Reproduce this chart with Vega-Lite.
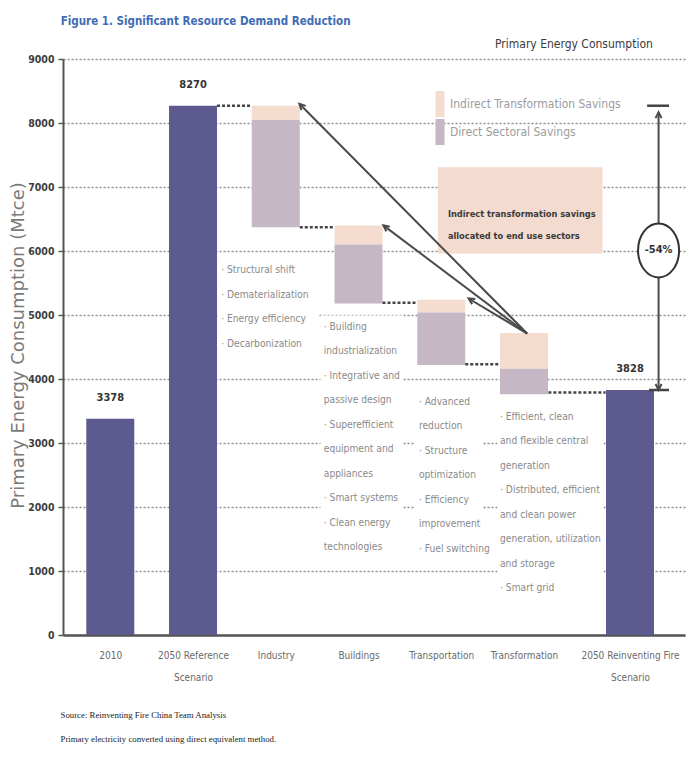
{
  "$schema": "https://vega.github.io/schema/vega-lite/v6.json",
  "width": 622,
  "height": 576,
  "autosize": {"type": "none"},
  "padding": {"left": 63, "top": 59, "right": 4, "bottom": 127},
  "background": "white",
  "config": {
    "view": {"stroke": null},
    "font": "DejaVu Sans Condensed, DejaVu Sans, sans-serif"
  },
  "datasets": {
    "totals": [
      {"i": 0, "name": "2010", "value": 3378, "label": "3378"},
      {"i": 1, "name": "2050 Reference Scenario", "value": 8270, "label": "8270"},
      {"i": 6, "name": "2050 Reinventing Fire Scenario", "value": 3828, "label": "3828"}
    ],
    "savings": [
      {"i": 2, "sector": "Industry", "type": "Indirect Transformation Savings", "lo": 8045, "hi": 8270},
      {"i": 2, "sector": "Industry", "type": "Direct Sectoral Savings", "lo": 6370, "hi": 8045},
      {"i": 3, "sector": "Buildings", "type": "Indirect Transformation Savings", "lo": 6100, "hi": 6400},
      {"i": 3, "sector": "Buildings", "type": "Direct Sectoral Savings", "lo": 5180, "hi": 6100},
      {"i": 4, "sector": "Transportation", "type": "Indirect Transformation Savings", "lo": 5040, "hi": 5240},
      {"i": 4, "sector": "Transportation", "type": "Direct Sectoral Savings", "lo": 4220, "hi": 5040},
      {"i": 5, "sector": "Transformation", "type": "Indirect Transformation Savings", "lo": 4160, "hi": 4720},
      {"i": 5, "sector": "Transformation", "type": "Direct Sectoral Savings", "lo": 3760, "hi": 4160}
    ],
    "connectors": [
      {"x0": 1.29, "x1": 1.71, "y": 8270},
      {"x0": 2.29, "x1": 2.71, "y": 6370},
      {"x0": 3.29, "x1": 3.71, "y": 5190},
      {"x0": 4.29, "x1": 4.71, "y": 4230},
      {"x0": 5.23, "x1": 5.77, "y": 3790}
    ],
    "arrows": [
      {"name": "industry", "x0": 5.03, "y0": 4710, "x1": 2.285, "y1": 8300},
      {"name": "buildings", "x0": 5.03, "y0": 4710, "x1": 3.3, "y1": 6400},
      {"name": "transport", "x0": 5.03, "y0": 4710, "x1": 4.33, "y1": 5258},
      {"name": "up", "x0": 6.3, "y0": 6009, "x1": 6.3, "y1": 8170},
      {"name": "down", "x0": 6.3, "y0": 6009, "x1": 6.3, "y1": 3828}
    ],
    "marks": [
      {"x0": 6.18, "x1": 6.41, "y": 8270},
      {"x0": 6.2, "x1": 6.41, "y": 3828}
    ],
    "notes": [
      {"sector": "Industry", "x": 1.34, "y": 5775, "bx0": 1.3, "bx1": 2.51, "by0": 4366, "by1": 5853, "text": "· Structural shift\n· Dematerialization\n· Energy efficiency\n· Decarbonization"},
      {"sector": "Buildings", "x": 2.58, "y": 4898, "bx0": 2.54, "bx1": 3.54, "by0": 1080, "by1": 4992, "text": "· Building\nindustrialization\n· Integrative and\npassive design\n· Superefficient\nequipment and\nappliances\n· Smart systems\n· Clean energy\ntechnologies"},
      {"sector": "Transportation", "x": 3.73, "y": 3725, "bx0": 3.68, "bx1": 4.5, "by0": 1127, "by1": 3787, "text": "· Advanced\nreduction\n· Structure\noptimization\n· Efficiency\nimprovement\n· Fuel switching"},
      {"sector": "Transformation", "x": 4.71, "y": 3490, "bx0": 4.68, "bx1": 5.75, "by0": 454, "by1": 3584, "text": "· Efficient, clean\nand flexible central\ngeneration\n· Distributed, efficient\nand clean power\ngeneration, utilization\nand storage\n· Smart grid"}
    ],
    "callout": [
      {"x0": 3.96, "x1": 5.74, "y0": 5962, "y1": 7308, "tx": 4.08, "ty": 6573, "text": "Indirect transformation savings\nallocated to end use sectors"}
    ],
    "reduction": [
      {"x": 6.3, "y": 6009, "text": "-54%"}
    ],
    "header": [
      {"x": 6.24, "y": 9233, "text": "Primary Energy Consumption"}
    ],
    "heading": [
      {"x": -0.6, "y": 9578, "text": "Figure 1. Significant Resource Demand Reduction"}
    ]
  },
  "layer": [
    {
      "data": {"name": "totals"},
      "mark": {"type": "bar", "width": 48, "color": "#5c5a8f", "orient": "vertical"},
      "encoding": {
        "x": {
          "field": "i", "type": "quantitative",
          "scale": {"domain": [-0.514, 5, 6, 6.52], "range": [0, 461, 567, 622], "zero": false, "nice": false},
          "axis": {
            "values": [0, 1, 2, 3, 4, 5, 6],
            "labelExpr": "datum.value == 0 ? '2010' : datum.value == 1 ? ['2050 Reference', 'Scenario'] : datum.value == 2 ? 'Industry' : datum.value == 3 ? 'Buildings' : datum.value == 4 ? 'Transportation' : datum.value == 5 ? 'Transformation' : ['2050 Reinventing Fire', 'Scenario']",
            "grid": false,
            "ticks": false,
            "domainColor": "#555555",
            "domainWidth": 2.5,
            "labelColor": "#6a6a6a",
            "labelFontSize": 10,
            "labelPadding": 15,
            "labelBaseline": "top",
            "labelLineHeight": 22,
            "labelOverlap": false,
            "labelFlush": false,
            "labelBound": false,
            "labelLimit": 0,
            "title": ["Source: Reinventing Fire China Team Analysis", "Primary electricity converted using direct equivalent method."],
            "titleX": -3,
            "titleY": 79,
            "titleAlign": "left",
            "titleAnchor": "start",
            "titleBaseline": "middle",
            "titleFont": "Liberation Serif, Times New Roman, serif",
            "titleFontSize": 8.8,
            "titleFontWeight": "normal",
            "titleColor": "#222222",
            "titleLineHeight": 24
          }
        },
        "y": {
          "field": "value", "type": "quantitative",
          "scale": {"domain": [0, 9000], "nice": false, "zero": true},
          "axis": {
            "values": [0, 1000, 2000, 3000, 4000, 5000, 6000, 7000, 8000, 9000],
            "format": "d",
            "grid": true,
            "gridDash": [2, 2],
            "gridColor": "#8f8f8f",
            "gridWidth": 1.5,
            "domainColor": "#555555",
            "domainWidth": 2,
            "tickColor": "#555555",
            "tickSize": 5,
            "tickWidth": 1.5,
            "labelFontWeight": "bold",
            "labelFontSize": 10.5,
            "labelColor": "#3d3d3d",
            "labelPadding": 4,
            "title": "Primary Energy Consumption  (Mtce)",
            "titleFont": "DejaVu Sans, Verdana, sans-serif",
            "titleFontSize": 18,
            "titleFontWeight": "normal",
            "titleColor": "#7a7a7a",
            "titleAngle": -90,
            "titleX": -45,
            "titleY": 286,
            "titleAlign": "center",
            "titleBaseline": "middle"
          }
        },
        "y2": {"datum": 0}
      }
    },
    {
      "data": {"name": "notes"},
      "mark": {"type": "rect", "fill": "white"},
      "encoding": {
        "x": {"field": "bx0", "type": "quantitative"},
        "x2": {"field": "bx1"},
        "y": {"field": "by0", "type": "quantitative"},
        "y2": {"field": "by1"}
      }
    },
    {
      "data": {"name": "callout"},
      "mark": {"type": "rect", "fill": "#f3dbcf"},
      "encoding": {
        "x": {"field": "x0", "type": "quantitative"},
        "x2": {"field": "x1"},
        "y": {"field": "y0", "type": "quantitative"},
        "y2": {"field": "y1"}
      }
    },
    {
      "data": {"name": "savings"},
      "mark": {"type": "bar", "width": 48, "orient": "vertical"},
      "encoding": {
        "x": {"field": "i", "type": "quantitative"},
        "y": {"field": "lo", "type": "quantitative"},
        "y2": {"field": "hi"},
        "fill": {
          "field": "type", "type": "nominal",
          "scale": {"domain": ["Indirect Transformation Savings", "Direct Sectoral Savings"], "range": ["#f4dccf", "#c5b7c4"]},
          "legend": {
            "orient": "none",
            "legendX": 364,
            "legendY": 32,
            "title": null,
            "symbolType": "M-0.35,-1H0.35V1H-0.35Z",
            "symbolSize": 676,
            "symbolStrokeWidth": 0,
            "symbolOpacity": 1,
            "labelFontSize": 12,
            "labelColor": "#9c9c9c",
            "labelOffset": -3,
            "labelLimit": 0,
            "rowPadding": 2
          }
        }
      }
    },
    {
      "data": {"name": "connectors"},
      "mark": {"type": "rule", "color": "#444444", "strokeDash": [3, 2], "strokeWidth": 2.5},
      "encoding": {
        "x": {"field": "x0", "type": "quantitative"},
        "x2": {"field": "x1"},
        "y": {"field": "y", "type": "quantitative"}
      }
    },
    {
      "data": {"name": "arrows"},
      "mark": {"type": "rule", "color": "#4a4a4a", "strokeWidth": 2},
      "encoding": {
        "x": {"field": "x0", "type": "quantitative"},
        "x2": {"field": "x1"},
        "y": {"field": "y0", "type": "quantitative"},
        "y2": {"field": "y1"}
      }
    },
    {
      "data": {"name": "marks"},
      "mark": {"type": "rule", "color": "#444444", "strokeWidth": 2.5},
      "encoding": {
        "x": {"field": "x0", "type": "quantitative"},
        "x2": {"field": "x1"},
        "y": {"field": "y", "type": "quantitative"}
      }
    },
    {
      "data": {"name": "arrows"},
      "transform": [{"filter": "datum.name == 'industry'"}],
      "mark": {"type": "point", "shape": "M-0.5,1L0,0L0.5,1", "size": 144, "filled": false, "stroke": "#4a4a4a", "strokeWidth": 2, "opacity": 1, "angle": 315},
      "encoding": {
        "x": {"field": "x1", "type": "quantitative"},
        "y": {"field": "y1", "type": "quantitative"}
      }
    },
    {
      "data": {"name": "arrows"},
      "transform": [{"filter": "datum.name == 'buildings'"}],
      "mark": {"type": "point", "shape": "M-0.5,1L0,0L0.5,1", "size": 144, "filled": false, "stroke": "#4a4a4a", "strokeWidth": 2, "opacity": 1, "angle": 307},
      "encoding": {
        "x": {"field": "x1", "type": "quantitative"},
        "y": {"field": "y1", "type": "quantitative"}
      }
    },
    {
      "data": {"name": "arrows"},
      "transform": [{"filter": "datum.name == 'transport'"}],
      "mark": {"type": "point", "shape": "M-0.5,1L0,0L0.5,1", "size": 144, "filled": false, "stroke": "#4a4a4a", "strokeWidth": 2, "opacity": 1, "angle": 301},
      "encoding": {
        "x": {"field": "x1", "type": "quantitative"},
        "y": {"field": "y1", "type": "quantitative"}
      }
    },
    {
      "data": {"name": "arrows"},
      "transform": [{"filter": "datum.name == 'up'"}],
      "mark": {"type": "point", "shape": "M-0.5,1L0,0L0.5,1", "size": 144, "filled": false, "stroke": "#4a4a4a", "strokeWidth": 2, "opacity": 1, "angle": 0},
      "encoding": {
        "x": {"field": "x1", "type": "quantitative"},
        "y": {"field": "y1", "type": "quantitative"}
      }
    },
    {
      "data": {"name": "arrows"},
      "transform": [{"filter": "datum.name == 'down'"}],
      "mark": {"type": "point", "shape": "M-0.5,1L0,0L0.5,1", "size": 144, "filled": false, "stroke": "#4a4a4a", "strokeWidth": 2, "opacity": 1, "angle": 180},
      "encoding": {
        "x": {"field": "x1", "type": "quantitative"},
        "y": {"field": "y1", "type": "quantitative"}
      }
    },
    {
      "data": {"name": "reduction"},
      "mark": {"type": "point", "shape": "M-0.76,0A0.76,1 0 1,0 0.76,0A0.76,1 0 1,0 -0.76,0Z", "size": 2916, "filled": true, "fill": "white", "stroke": "#333333", "strokeWidth": 2, "opacity": 1},
      "encoding": {
        "x": {"field": "x", "type": "quantitative"},
        "y": {"field": "y", "type": "quantitative"}
      }
    },
    {
      "data": {"name": "reduction"},
      "mark": {"type": "text", "fontSize": 11, "fontWeight": "bold", "color": "#333333", "align": "center", "baseline": "middle"},
      "encoding": {
        "x": {"field": "x", "type": "quantitative"},
        "y": {"field": "y", "type": "quantitative"},
        "text": {"field": "text"}
      }
    },
    {
      "data": {"name": "totals"},
      "mark": {"type": "text", "fontSize": 11, "fontWeight": "bold", "color": "#333333", "align": "center", "baseline": "middle", "dy": -21},
      "encoding": {
        "x": {"field": "i", "type": "quantitative"},
        "y": {"field": "value", "type": "quantitative"},
        "text": {"field": "label"}
      }
    },
    {
      "data": {"name": "notes"},
      "mark": {"type": "text", "fontSize": 10.2, "color": "#8a8a8a", "align": "left", "baseline": "top", "lineBreak": "\n", "lineHeight": 24.5},
      "encoding": {
        "x": {"field": "x", "type": "quantitative"},
        "y": {"field": "y", "type": "quantitative"},
        "text": {"field": "text"}
      }
    },
    {
      "data": {"name": "callout"},
      "mark": {"type": "text", "fontSize": 9.2, "fontWeight": "bold", "color": "#3a3a3a", "align": "left", "baseline": "middle", "lineBreak": "\n", "lineHeight": 22},
      "encoding": {
        "x": {"field": "tx", "type": "quantitative"},
        "y": {"field": "ty", "type": "quantitative"},
        "text": {"field": "text"}
      }
    },
    {
      "data": {"name": "header"},
      "mark": {"type": "text", "fontSize": 12, "color": "#3a3a3a", "align": "right", "baseline": "middle"},
      "encoding": {
        "x": {"field": "x", "type": "quantitative"},
        "y": {"field": "y", "type": "quantitative"},
        "text": {"field": "text"}
      }
    },
    {
      "data": {"name": "heading"},
      "mark": {"type": "text", "fontSize": 11.5, "fontWeight": "bold", "color": "#3f6db5", "align": "left", "baseline": "middle"},
      "encoding": {
        "x": {"field": "x", "type": "quantitative"},
        "y": {"field": "y", "type": "quantitative"},
        "text": {"field": "text"}
      }
    }
  ]
}
